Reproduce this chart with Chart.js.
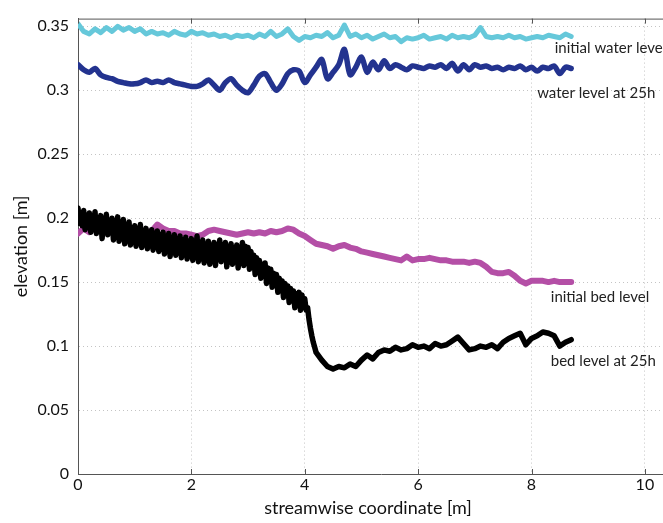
<!DOCTYPE html>
<html>
<head>
<meta charset="utf-8">
<script src="https://cdn.jsdelivr.net/npm/chart.js@4/dist/chart.umd.min.js"></script>
<style>
  html, body { margin: 0; padding: 0; background: #fff; overflow: hidden; }
  #wrap { width: 684px; height: 523px; }
</style>
</head>
<body>
<div id="wrap"><canvas id="chart"></canvas></div>
<script>
// streamwise coordinate grid (m), 0.1 m spacing
const X_GRID = [0, 0.1, 0.2, 0.3, 0.4, 0.5, 0.6, 0.7, 0.8, 0.9,
  1.0, 1.1, 1.2, 1.3, 1.4, 1.5, 1.6, 1.7, 1.8, 1.9,
  2.0, 2.1, 2.2, 2.3, 2.4, 2.5, 2.6, 2.7, 2.8, 2.9,
  3.0, 3.1, 3.2, 3.3, 3.4, 3.5, 3.6, 3.7, 3.8, 3.9,
  4.0, 4.1, 4.2, 4.3, 4.4, 4.5, 4.6, 4.7, 4.8, 4.9,
  5.0, 5.1, 5.2, 5.3, 5.4, 5.5, 5.6, 5.7, 5.8, 5.9,
  6.0, 6.1, 6.2, 6.3, 6.4, 6.5, 6.6, 6.7, 6.8, 6.9,
  7.0, 7.1, 7.2, 7.3, 7.4, 7.5, 7.6, 7.7, 7.8, 7.9,
  8.0, 8.1, 8.2, 8.3, 8.4, 8.5, 8.6, 8.7];

const initialWater = [0.352, 0.346, 0.344, 0.348, 0.345, 0.349, 0.346, 0.350, 0.347, 0.349,
  0.346, 0.348, 0.344, 0.346, 0.344, 0.345, 0.343, 0.346, 0.344, 0.343,
  0.346, 0.344, 0.345, 0.343, 0.344, 0.342, 0.343, 0.341, 0.343, 0.342,
  0.343, 0.341, 0.344, 0.342, 0.346, 0.342, 0.344, 0.348, 0.342, 0.339,
  0.342, 0.341, 0.343, 0.342, 0.345, 0.341, 0.343, 0.351, 0.342, 0.344,
  0.341, 0.343, 0.340, 0.342, 0.344, 0.341, 0.342, 0.338, 0.341, 0.340,
  0.341, 0.343, 0.340, 0.341, 0.342, 0.340, 0.343, 0.341, 0.342, 0.341,
  0.343, 0.349, 0.342, 0.341, 0.342, 0.341, 0.343, 0.341, 0.342, 0.340,
  0.341, 0.342, 0.341, 0.343, 0.342, 0.341, 0.344, 0.342];

const water25h = [0.320, 0.316, 0.314, 0.317, 0.312, 0.310, 0.309, 0.307, 0.306, 0.305,
  0.305, 0.306, 0.308, 0.306, 0.307, 0.306, 0.308, 0.306, 0.305, 0.304,
  0.303, 0.303, 0.305, 0.308, 0.304, 0.300, 0.306, 0.309, 0.304, 0.300,
  0.298, 0.304, 0.311, 0.313, 0.306, 0.300, 0.305, 0.313, 0.316, 0.315,
  0.306, 0.312, 0.318, 0.324, 0.309, 0.314, 0.320, 0.332, 0.312, 0.318,
  0.326, 0.314, 0.322, 0.316, 0.323, 0.317, 0.320, 0.318, 0.316, 0.319,
  0.318, 0.317, 0.319, 0.318, 0.320, 0.317, 0.321, 0.315, 0.320, 0.316,
  0.320, 0.318, 0.319, 0.317, 0.318, 0.316, 0.318, 0.317, 0.319, 0.316,
  0.318, 0.315, 0.318, 0.317, 0.319, 0.313, 0.318, 0.317];

const initialBed = [0.188, 0.192, 0.189, 0.194, 0.191, 0.193, 0.189, 0.192, 0.190, 0.191,
  0.190, 0.191, 0.189, 0.190, 0.195, 0.192, 0.190, 0.190, 0.188, 0.188,
  0.187, 0.186, 0.187, 0.190, 0.191, 0.190, 0.189, 0.188, 0.187, 0.188,
  0.189, 0.188, 0.189, 0.188, 0.190, 0.189, 0.190, 0.192, 0.191, 0.188,
  0.186, 0.183, 0.180, 0.179, 0.178, 0.176, 0.178, 0.179, 0.177, 0.176,
  0.174, 0.173, 0.172, 0.171, 0.170, 0.169, 0.168, 0.167, 0.170, 0.167,
  0.168, 0.168, 0.169, 0.168, 0.167, 0.167, 0.166, 0.166, 0.166, 0.165,
  0.166, 0.165, 0.162, 0.158, 0.157, 0.157, 0.158, 0.155, 0.151, 0.149,
  0.151, 0.151, 0.151, 0.150, 0.151, 0.150, 0.150, 0.150];

// bed at 25h: fine sampling upstream (0 - 4.2 m) where the profile is very noisy
const bed25hX = [
  0, 0.025, 0.05, 0.075, 0.1, 0.125, 0.15, 0.175, 0.2, 0.225,
  0.25, 0.275, 0.3, 0.325, 0.35, 0.375, 0.4, 0.425, 0.45, 0.475,
  0.5, 0.525, 0.55, 0.575, 0.6, 0.625, 0.65, 0.675, 0.7, 0.725,
  0.75, 0.775, 0.8, 0.825, 0.85, 0.875, 0.9, 0.925, 0.95, 0.975,
  1.0, 1.025, 1.05, 1.075, 1.1, 1.125, 1.15, 1.175, 1.2, 1.225,
  1.25, 1.275, 1.3, 1.325, 1.35, 1.375, 1.4, 1.425, 1.45, 1.475,
  1.5, 1.525, 1.55, 1.575, 1.6, 1.625, 1.65, 1.675, 1.7, 1.725,
  1.75, 1.775, 1.8, 1.825, 1.85, 1.875, 1.9, 1.925, 1.95, 1.975,
  2.0, 2.025, 2.05, 2.075, 2.1, 2.125, 2.15, 2.175, 2.2, 2.225,
  2.25, 2.275, 2.3, 2.325, 2.35, 2.375, 2.4, 2.425, 2.45, 2.475,
  2.5, 2.525, 2.55, 2.575, 2.6, 2.625, 2.65, 2.675, 2.7, 2.725,
  2.75, 2.775, 2.8, 2.825, 2.85, 2.875, 2.9, 2.925, 2.95, 2.975,
  3.0, 3.025, 3.05, 3.075, 3.1, 3.125, 3.15, 3.175, 3.2, 3.225,
  3.25, 3.275, 3.3, 3.325, 3.35, 3.375, 3.4, 3.425, 3.45, 3.475,
  3.5, 3.525, 3.55, 3.575, 3.6, 3.625, 3.65, 3.675, 3.7, 3.725,
  3.75, 3.775, 3.8, 3.825, 3.85, 3.875, 3.9, 3.925, 3.95, 3.975,
  4.0, 4.025, 4.05, 4.075, 4.1, 4.125, 4.15, 4.175, 4.2,
  4.3, 4.4, 4.5, 4.6, 4.7, 4.8, 4.9, 5.0, 5.1, 5.2, 5.3, 5.4, 5.5, 5.6, 5.7, 5.8, 5.9,
  6.0, 6.1, 6.2, 6.3, 6.4, 6.5, 6.6, 6.7, 6.8, 6.9, 7.0, 7.1, 7.2, 7.3, 7.4, 7.5, 7.6,
  7.7, 7.8, 7.9, 8.0, 8.1, 8.2, 8.3, 8.4, 8.5, 8.6, 8.7];

const bed25h = [
  0.208, 0.196, 0.203, 0.194, 0.206, 0.191, 0.200, 0.197, 0.204, 0.189,
  0.201, 0.193, 0.205, 0.188, 0.199, 0.195, 0.202, 0.184, 0.197, 0.190,
  0.203, 0.187, 0.198, 0.192, 0.200, 0.183, 0.196, 0.190, 0.201, 0.182,
  0.195, 0.188, 0.199, 0.180, 0.194, 0.187, 0.197, 0.179, 0.192, 0.186,
  0.194, 0.178, 0.191, 0.185, 0.195, 0.177, 0.190, 0.183, 0.192, 0.176,
  0.189, 0.182, 0.191, 0.175, 0.188, 0.181, 0.190, 0.174, 0.187, 0.180,
  0.189, 0.172, 0.186, 0.179, 0.188, 0.170, 0.185, 0.178, 0.187, 0.171,
  0.184, 0.176, 0.186, 0.169, 0.183, 0.175, 0.185, 0.168, 0.182, 0.174,
  0.184, 0.167, 0.181, 0.173, 0.186, 0.166, 0.180, 0.172, 0.183, 0.165,
  0.179, 0.171, 0.182, 0.164, 0.178, 0.170, 0.181, 0.163, 0.177, 0.169,
  0.183, 0.166, 0.178, 0.171, 0.181, 0.162, 0.176, 0.169, 0.180, 0.164,
  0.176, 0.168, 0.179, 0.161, 0.175, 0.167, 0.181, 0.163, 0.178, 0.166,
  0.177, 0.160, 0.174, 0.165, 0.171, 0.156, 0.169, 0.160, 0.167, 0.153,
  0.164, 0.157, 0.165, 0.149, 0.161, 0.153, 0.160, 0.146, 0.157, 0.150,
  0.156, 0.142, 0.153, 0.146, 0.151, 0.138, 0.149, 0.142, 0.147, 0.134,
  0.145, 0.137, 0.143, 0.130, 0.141, 0.134, 0.142, 0.128, 0.140, 0.131,
  0.137, 0.128, 0.130, 0.121, 0.114, 0.108, 0.103, 0.099, 0.095,
  0.089, 0.084, 0.082, 0.084, 0.083, 0.086, 0.084, 0.089, 0.093, 0.090, 0.095, 0.097, 0.096, 0.099, 0.097, 0.098, 0.101,
  0.099, 0.100, 0.098, 0.102, 0.100, 0.101, 0.104, 0.107, 0.102, 0.097, 0.098, 0.100, 0.099, 0.101, 0.098, 0.103, 0.106,
  0.108, 0.110, 0.101, 0.106, 0.108, 0.111, 0.110, 0.108, 0.100, 0.103, 0.105];

const xTicks = [0, 2, 4, 6, 8, 10];
const yTicks = [0, 0.05, 0.1, 0.15, 0.2, 0.25, 0.3, 0.35];
const xTitle = "streamwise coordinate [m]";

const curveLabels = [
  { text: "initial water level", x: 8.41, y: 0.333 },
  { text: "water level at 25h", x: 8.1, y: 0.298 },
  { text: "initial bed level", x: 8.34, y: 0.138 },
  { text: "bed level at 25h", x: 8.34, y: 0.088 },
];

const FONT = "Lato, 'Open Sans', sans-serif";

function pairs(xs, ys) {
  return ys.map((y, i) => ({ x: xs[i], y }));
}

function lineSet(data, color, width, tension) {
  return {
    data,
    borderColor: color,
    borderWidth: width,
    pointRadius: 0,
    tension: tension || 0,
    borderJoinStyle: "round",
    borderCapStyle: "round",
    fill: false,
  };
}

// top frame line with inward ticks, curve names and the x title
// (the canvas is a bit wider than the window, so the title is centred on the visible part)
const decorations = {
  id: "decorations",
  afterDraw(chart) {
    const { ctx, chartArea: a, scales } = chart;
    ctx.save();
    ctx.strokeStyle = "#555";
    ctx.lineWidth = 1;
    ctx.beginPath();
    ctx.moveTo(a.left, a.top + 0.5);
    ctx.lineTo(a.right, a.top + 0.5);
    xTicks.forEach((v) => {
      const px = Math.round(scales.x.getPixelForValue(v)) + 0.5;
      ctx.moveTo(px, a.top);
      ctx.lineTo(px, a.top + 5);
      ctx.moveTo(px, a.bottom);
      ctx.lineTo(px, a.bottom - 5);
    });
    ctx.stroke();

    ctx.fillStyle = "#222";
    ctx.font = "15px " + FONT;
    ctx.textBaseline = "middle";
    curveLabels.forEach((l) => {
      ctx.fillText(l.text, scales.x.getPixelForValue(l.x), scales.y.getPixelForValue(l.y));
    });

    ctx.fillStyle = "#111";
    ctx.font = "18px " + FONT;
    ctx.textAlign = "center";
    ctx.fillText(xTitle, a.left + 290, a.bottom + 34);
    ctx.restore();
  },
};

new Chart(document.getElementById("chart"), {
  type: "line",
  data: {
    datasets: [
      lineSet(pairs(bed25hX, bed25h), "#000000", 5.5),
      lineSet(pairs(X_GRID, initialBed), "#b44fa6", 6),
      lineSet(pairs(X_GRID, water25h), "#23338f", 5.5, 0.3),
      lineSet(pairs(X_GRID, initialWater), "#66c8da", 5),
    ],
  },
  options: {
    responsive: true,
    maintainAspectRatio: false,
    animation: false,
    layout: { padding: { top: 12, right: 0, left: 0, bottom: 0 } },
    scales: {
      x: {
        type: "linear",
        min: 0,
        max: 10.69,
        afterBuildTicks: (axis) => { axis.ticks = xTicks.map((v) => ({ value: v })); },
        afterFit: (axis) => { axis.height = 49; },
        grid: { color: "#c4c4c4", lineWidth: 1, drawTicks: false },
        border: { display: true, color: "#555", width: 1, dash: [1, 3] },
        ticks: { color: "#111", padding: 1, font: { family: FONT, size: 16 } },
        title: { display: false },
      },
      y: {
        type: "linear",
        min: 0,
        max: 0.356,
        afterBuildTicks: (axis) => { axis.ticks = yTicks.map((v) => ({ value: v })); },
        afterFit: (axis) => { axis.width = 78; },
        grid: { color: "#c4c4c4", lineWidth: 1, drawTicks: false },
        border: { display: true, color: "#555", width: 1, dash: [1, 3] },
        ticks: {
          color: "#111",
          padding: 9,
          font: { family: FONT, size: 16 },
          callback: (v) => String(v),
        },
        title: {
          display: true,
          text: "elevation [m]",
          color: "#111",
          padding: { top: 10, bottom: 0 },
          font: { family: FONT, size: 18 },
        },
      },
    },
    plugins: {
      legend: { display: false },
      tooltip: { enabled: false },
    },
  },
  plugins: [decorations],
});
</script>
</body>
</html>
